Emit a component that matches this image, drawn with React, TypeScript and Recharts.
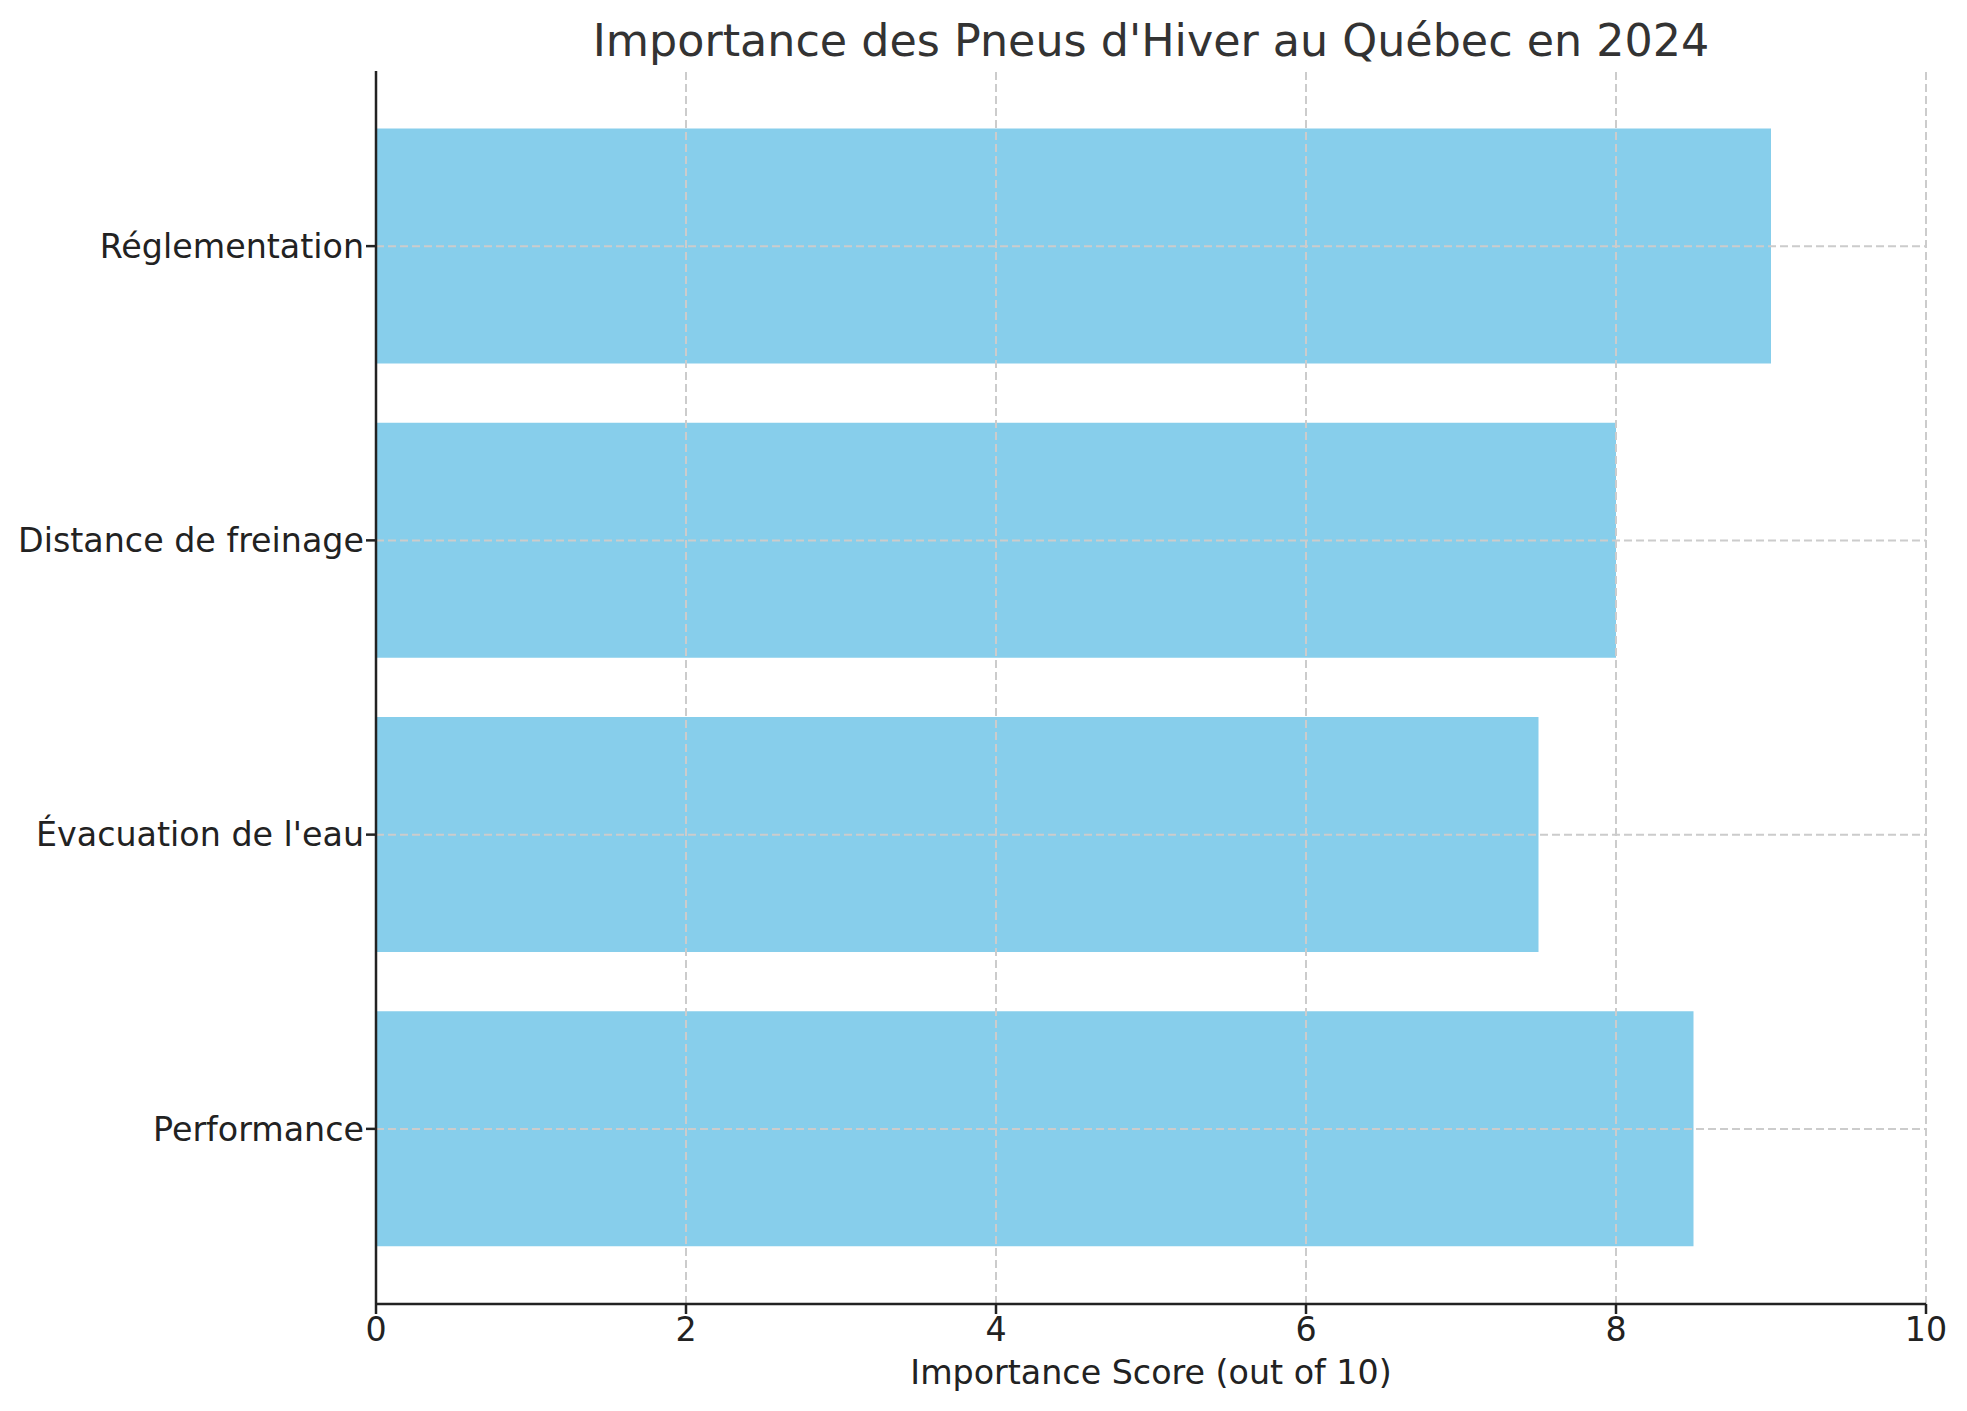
import { BarChart, Bar, XAxis, YAxis, ReferenceLine } from 'recharts'

// bottom-to-top, as in the source figure
const categories = ['Performance', "Évacuation de l'eau", 'Distance de freinage', 'Réglementation']
const scores = [8.5, 7.5, 8, 9]
const xTicks = [0, 2, 4, 6, 8, 10]

const chartData = categories.map((c, i) => ({ category: c, score: scores[i] }))

const FONT = 'DejaVu Sans'
const INK = '#222222'
const GRID = { stroke: '#cccccc', strokeWidth: 2, strokeDasharray: '8 4' }

export default function App() {
  return (
    <div
      style={{
        position: 'absolute',
        left: 0,
        top: 0,
        width: 1967,
        height: 1411,
        overflow: 'hidden',
        background: '#ffffff',
        fontFamily: FONT,
      }}
    >
      <div
        style={{
          position: 'absolute',
          left: 376,
          top: 19,
          width: 1550,
          textAlign: 'center',
          fontSize: 44.4,
          lineHeight: 1,
          color: '#333333',
          whiteSpace: 'nowrap',
        }}
      >
        Importance des Pneus d'Hiver au Québec en 2024
      </div>
      <BarChart
        width={1967}
        height={1411}
        data={chartData}
        layout="vertical"
        margin={{ top: 71, right: 41, bottom: 0, left: 0 }}
        barCategoryGap="10%"
        style={{ fontFamily: FONT }}
      >
        <XAxis
          type="number"
          domain={[0, 10]}
          ticks={xTicks}
          height={107}
          tickSize={10}
          tickMargin={3}
          axisLine={{ stroke: INK, strokeWidth: 2.5 }}
          tickLine={{ stroke: INK, strokeWidth: 2.5 }}
          tick={{ fill: INK, fontSize: 33.3, fontFamily: FONT }}
          label={{
            value: 'Importance Score (out of 10)',
            position: 'insideBottom',
            offset: 27,
            fill: INK,
            fontSize: 33.3,
            fontFamily: FONT,
          }}
        />
        <YAxis
          type="category"
          dataKey="category"
          reversed
          width={376}
          padding={{ top: 28, bottom: 28 }}
          tickSize={10}
          tickMargin={2}
          axisLine={{ stroke: INK, strokeWidth: 2.5 }}
          tickLine={{ stroke: INK, strokeWidth: 2.5 }}
          tick={{ fill: INK, fontSize: 33.3, fontFamily: FONT }}
          interval={0}
        />
        <Bar dataKey="score" fill="#87CEEB" isAnimationActive={false} />
        {/* matplotlib draws the grid above the bars */}
        {xTicks
          .filter((t) => t > 0)
          .map((t) => (
            <ReferenceLine key={`x${t}`} x={t} {...GRID} />
          ))}
        {categories.map((c) => (
          <ReferenceLine key={`y${c}`} y={c} {...GRID} />
        ))}
      </BarChart>
    </div>
  )
}
